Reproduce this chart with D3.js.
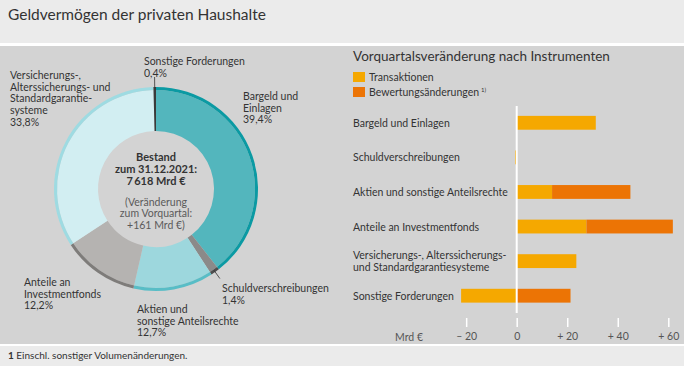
<!DOCTYPE html>
<html>
<head>
<meta charset="utf-8">
<script src="https://cdn.jsdelivr.net/npm/d3@7"></script>
<style>
  body { margin: 0; background: #fff; }
  svg text { font-family: Lato, "Open Sans", sans-serif; fill: #333; }
</style>
</head>
<body>
<div id="chart"></div>
<script>
// donut: Bestand nach Instrumenten (Anteile in %)
var donutNames = ["Bargeld und Einlagen", "Schuldverschreibungen", "Aktien und sonstige Anteilsrechte",
                  "Anteile an Investmentfonds", "Versicherungs-, Alterssicherungs- und Standardgarantiesysteme",
                  "Sonstige Forderungen"];
var donutShares = [39.4, 1.4, 12.7, 12.2, 33.8, 0.4];
var donutShareLabels = ["39,4%", "1,4%", "12,7%", "12,2%", "33,8%", "0,4%"];
var donutFill = ["#53b6bd", "#8b8a89", "#9dd7dd", "#b5b3b1", "#d2eef2", "#3a3a3a"];
var donutEdge = ["#0b9aa3", "#4d4d4d", "#58bdc6", "#7e7c7a", "#9edbe2", "#3a3a3a"];

// bars: Vorquartalsveraenderung (Mrd Euro)
var barCategories = ["Bargeld und Einlagen", "Schuldverschreibungen", "Aktien und sonstige Anteilsrechte",
                     "Anteile an Investmentfonds", "Versicherungs-, Alterssicherungs-|und Standardgarantiesysteme",
                     "Sonstige Forderungen"];
var transaktionen = [31.3, -0.6, 14.0, 27.6, 23.6, -22.0];
var bewertung = [0, 0, 31.0, 34.2, 0, 21.3];
var tickValues = [-20, 0, 20, 40, 60];
var tickLabels = ["\u2013 20", "0", "+ 20", "+ 40", "+ 60"];

var W = 684, H = 366;
var FS = "10.5px", LH = 11.7;
var svg = d3.select("#chart").append("svg").attr("width", W).attr("height", H);

// backgrounds
svg.append("rect").attr("width", W).attr("height", H).attr("fill", "#fff");
svg.append("rect").attr("x", 0).attr("y", 0).attr("width", W).attr("height", 43).attr("fill", "#ebebeb");
svg.append("rect").attr("x", 0).attr("y", 46).attr("width", W).attr("height", 298).attr("fill", "#d3d3d3");
svg.append("rect").attr("x", 0).attr("y", 346).attr("width", W).attr("height", 20).attr("fill", "#ebebeb");

svg.append("text").attr("x", 8).attr("y", 19.5).style("font-size", "15.5px").text("Geldverm\u00f6gen der privaten Haushalte");

var foot = svg.append("text").attr("x", 8).attr("y", 359).style("font-size", "10px");
foot.append("tspan").style("font-weight", "bold").text("1");
foot.append("tspan").text(" Einschl. sonstiger Volumen\u00e4nderungen.");

// ---------- donut ----------
var cx = 156, cy = 189, rOuter = 102, rInner = 58, edgeW = 3;
var g = svg.append("g").attr("transform", "translate(" + cx + "," + cy + ")");

var pie = d3.pie().sort(null).value(function(d) { return d; });
var slices = pie(donutShares);

var arcFill = d3.arc().innerRadius(rInner).outerRadius(rOuter - edgeW);
var arcEdge = d3.arc().innerRadius(rOuter - edgeW).outerRadius(rOuter);

g.selectAll("path.fill").data(slices).enter().append("path")
    .attr("class", "fill")
    .attr("d", arcFill)
    .attr("fill", function(d, i) { return donutFill[i]; });

g.selectAll("path.edge").data(slices).enter().append("path")
    .attr("class", "edge")
    .attr("d", arcEdge)
    .attr("fill", function(d, i) { return donutEdge[i]; });

// leader lines for the two thin slices
function polar(a, r) { return [Math.sin(a) * r, -Math.cos(a) * r]; }
[[5, rOuter, rOuter + 10], [1, rOuter - 2, rOuter + 8]].forEach(function(l) {
    var s = slices[l[0]], a = (s.startAngle + s.endAngle) / 2;
    var p0 = polar(a, l[1]), p1 = polar(a, l[2]);
    g.append("line").attr("x1", p0[0]).attr("y1", p0[1]).attr("x2", p1[0]).attr("y2", p1[1])
        .attr("stroke", "#333").attr("stroke-width", 0.8);
});

// slice labels
var donutLabelPos = [
    {x: 243, y: 100, lines: ["Bargeld und", "Einlagen"], i: 0},
    {x: 222, y: 292, lines: ["Schuldverschreibungen"], i: 1},
    {x: 137, y: 313, lines: ["Aktien und", "sonstige Anteilsrechte"], i: 2},
    {x: 24, y: 286, lines: ["Anteile an", "Investmentfonds"], i: 3},
    {x: 10, y: 79, lines: ["Versicherungs-,", "Alterssicherungs- und", "Standardgarantie-", "systeme"], i: 4},
    {x: 144, y: 65, lines: ["Sonstige Forderungen"], i: 5}
];
donutLabelPos.forEach(function(p) {
    var t = svg.append("text").attr("x", p.x).attr("y", p.y).style("font-size", FS);
    p.lines.concat([donutShareLabels[p.i]]).forEach(function(s, k) {
        t.append("tspan").attr("x", p.x).attr("dy", k === 0 ? 0 : LH).text(s);
    });
});

// centre text
var centreBold = ["Bestand", "zum 31.12.2021:", "7\u2009618 Mrd \u20ac"];
var centreLight = ["(Ver\u00e4nderung", "zum Vorquartal:", "+161 Mrd \u20ac)"];
centreBold.forEach(function(s, k) {
    g.append("text").attr("text-anchor", "middle").attr("y", -28.5 + k * 12.2)
        .style("font-size", "11px").style("font-weight", "bold").text(s);
});
centreLight.forEach(function(s, k) {
    g.append("text").attr("text-anchor", "middle").attr("y", 16.5 + k * LH)
        .style("font-size", FS).style("fill", "#5a5a5a").text(s);
});

// ---------- bars ----------
svg.append("text").attr("x", 353).attr("y", 61).style("font-size", "13.5px")
    .text("Vorquartalsver\u00e4nderung nach Instrumenten");

var legend = [["Transaktionen", "#f5a800"], ["Bewertungs\u00e4nderungen", "#ec7405"]];
legend.forEach(function(l, k) {
    svg.append("rect").attr("x", 353).attr("y", 72 + k * 15).attr("width", 12).attr("height", 10).attr("fill", l[1]);
    var t = svg.append("text").attr("x", 369).attr("y", 80.5 + k * 15).style("font-size", FS).text(l[0]);
    if (k === 1) t.append("tspan").attr("dx", 2).attr("dy", -4).style("font-size", "6px").text("1)");
});

var x = d3.scaleLinear().domain([0, 60]).range([516.7, 668.3]);
var y = d3.scaleBand().domain(barCategories).range([105.5, 313]).paddingInner(0.6).paddingOuter(0.3);

var rows = barCategories.map(function(c, i) { return {cat: c, t: transaktionen[i], b: bewertung[i]}; });
var series = d3.stack().keys(["t", "b"]).offset(d3.stackOffsetDiverging)(rows);
var barColors = {t: "#f5a800", b: "#ec7405"};

svg.selectAll("g.series").data(series).enter().append("g")
    .attr("class", "series")
    .attr("fill", function(s) { return barColors[s.key]; })
  .selectAll("rect").data(function(s) { return s; }).enter().append("rect")
    .attr("x", function(d) { return x(Math.min(d[0], d[1])); })
    .attr("width", function(d) { return Math.abs(x(d[1]) - x(d[0])); })
    .attr("y", function(d) { return y(d.data.cat); })
    .attr("height", y.bandwidth());

// zero line
svg.append("line").attr("x1", x(0)).attr("x2", x(0)).attr("y1", 106).attr("y2", 313)
    .attr("stroke", "#fff").attr("stroke-width", 2);

// category labels
barCategories.forEach(function(c) {
    var parts = c.split("|");
    var yc = y(c) + y.bandwidth() / 2;
    var t = svg.append("text").attr("x", 353).attr("y", yc + 4 - (parts.length - 1) * 6.5).style("font-size", FS);
    parts.forEach(function(p, k) {
        t.append("tspan").attr("x", 353).attr("dy", k === 0 ? 0 : 12.5).text(p);
    });
});

// x axis
var axis = d3.axisBottom(x).tickValues(tickValues).tickSize(9)
    .tickFormat(function(d, i) { return tickLabels[i]; });
var ax = svg.append("g").attr("transform", "translate(0,318)").call(axis);
ax.select(".domain").remove();
ax.selectAll(".tick line").attr("stroke", "#fff").attr("stroke-width", 1.5);
ax.selectAll(".tick text").attr("y", 15).style("font-size", FS).style("fill", "#555")
    .style("font-family", "Lato, 'Open Sans', sans-serif");
svg.append("text").attr("x", 423).attr("y", 341).attr("text-anchor", "end")
    .style("font-size", FS).style("fill", "#555").text("Mrd \u20ac");
</script>
</body>
</html>
